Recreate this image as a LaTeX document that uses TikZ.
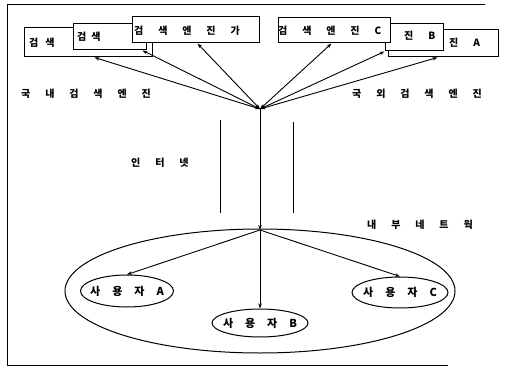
\documentclass[tikz,border=0pt]{standalone}
\usepackage{fontspec}
\newfontfamily\kr[WordSpace=6.5]{Noto Sans CJK KR}
\newcommand\ugap{\hspace{12pt}}
\usetikzlibrary{arrows.meta,shapes.geometric}
\begin{document}
\begin{tikzpicture}[x=1pt,y=-1pt,
  frame/.style={line width=1pt},
  box/.style={draw, fill=white, line width=1pt, rectangle, inner sep=0pt},
  txt/.style={font=\kr\bfseries\fontsize{10}{12}\selectfont, inner sep=0pt, anchor=west},
  utxt/.style={font=\kr\bfseries\fontsize{11}{13}\selectfont, inner sep=0pt},
  tip/.tip={Stealth[length=5pt,width=3.5pt]},
  link/.style={line width=0.9pt, tip-tip},
  feed/.style={line width=0.9pt, -tip},
  oval/.style={draw, ellipse, line width=1pt, inner sep=0pt},
]
\useasboundingbox (0,0) rectangle (510,371);

% outer frame
\draw[frame] (485,5) -- (7,5) -- (7,365) -- (448,365);

% domestic search engines (stacked)
\node[box, minimum width=128pt, minimum height=29pt] (b1) at (88,42.5) {};
\node[box, minimum width=73pt, minimum height=26pt] (b2) at (109.5,37) {};
\node[box, minimum width=127pt, minimum height=26pt] (b3) at (195.5,30) {};
% foreign search engines (stacked)
\node[box, minimum width=110pt, minimum height=27pt] (b6) at (443,43.5) {};
\node[box, minimum width=58pt, minimum height=27pt] (b5) at (414,37.5) {};
\node[box, minimum width=112pt, minimum height=25pt] (b4) at (334,30.5) {};

\node[txt] (t1) at (29,43) {검\hspace{7pt}색};
\node[txt] (t2) at (77,37) {검\hspace{5pt}색};
\node[txt] (t3) at (134,31) {검 색 엔 진 가};
\node[txt] (t4) at (278,31) {검 색 엔 진 C};
\node[txt] (t5) at (404,36) {진 B};
\node[txt] (t6) at (449,43) {진 A};

% hubs
\coordinate (hub) at (260,109);
\coordinate (lan) at (260,230);

\draw[link] ([xshift=71pt]b1.south west) -- (hub);
\draw[link] ([xshift=70pt]b2.south west) -- (hub);
\draw[link] ([xshift=66pt]b3.south west) -- (hub);
\draw[link] ([xshift=54pt]b4.south west) -- (hub);
\draw[link] (b5.south west) -- (hub);
\draw[link] ([xshift=50pt]b6.south west) -- (hub);

\node[txt] (dom) at (21,94) {국 내 검 색 엔 진};
\node[txt] (fgn) at (352,94) {국 외 검 색 엔 진};

% internet
\draw[frame] (220,120) -- (220,213);
\draw[frame] (293,122) -- (293,213);
\node[txt] (inet) at (131,163) {인 터 넷};
\draw[feed] (hub) -- (lan);

% internal network
\node[txt] (lanlbl) at (367,225) {내 부 네 트 웍};
\node[oval, minimum width=390pt, minimum height=124pt] (net) at (260,291) {};
\node[oval, minimum width=93pt, minimum height=32pt] (ua) at (127,291) {};
\node[oval, minimum width=96pt, minimum height=28pt] (ub) at (260,323) {};
\node[oval, minimum width=96pt, minimum height=31pt] (uc) at (400,292.5) {};
\node[utxt] (la) at (127,291) {사\ugap 용\ugap 자\ugap A};
\node[utxt] (lb) at (260,323) {사\ugap 용\ugap 자\ugap B};
\node[utxt] (lc) at (400,292.5) {사\ugap 용\ugap 자\ugap C};

\draw[feed] (lan) -- (ua.north);
\draw[feed] (lan) -- (ub.north);
\draw[feed] (lan) -- (uc.north);
\end{tikzpicture}
\end{document}
